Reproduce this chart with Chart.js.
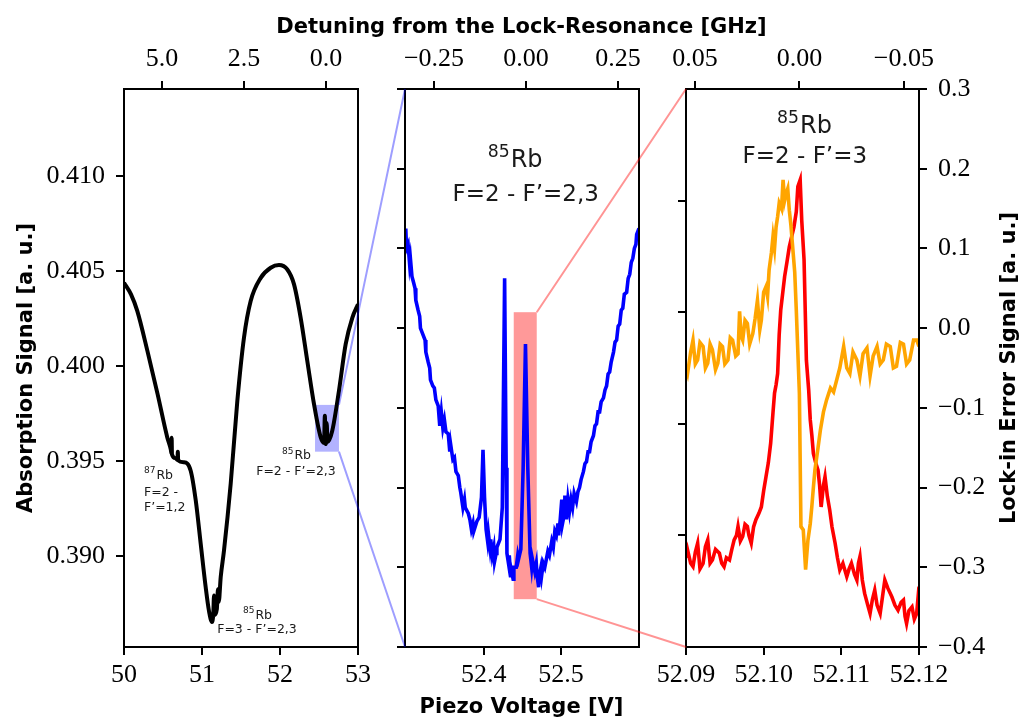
<!DOCTYPE html>
<html>
<head>
<meta charset="utf-8">
<script src="https://cdn.jsdelivr.net/npm/chart.js@4.4.1/dist/chart.umd.min.js"></script>
<style>
body{margin:0;background:#fff;}
#wrap{position:relative;width:1022px;height:722px;}
#wrap canvas{position:absolute;left:0;top:0;}
</style>
</head>
<body>
<div id="wrap">
<canvas id="c1" width="1022" height="722"></canvas>
<canvas id="c2" width="1022" height="722"></canvas>
<canvas id="c3" width="1022" height="722"></canvas>
</div>
<script>
// ---- panel 1: full Doppler scan ----
const p1Volt = [50.00, 50.09, 50.17, 50.30, 50.43, 50.555, 50.60, 50.608, 50.611, 50.615,
  50.66, 50.686, 50.69, 50.694, 50.77, 50.855, 50.92, 50.983, 51.047, 51.09,
  51.128, 51.145, 51.154, 51.16, 51.19, 51.205, 51.215, 51.24, 51.282, 51.368,
  51.453, 51.538, 51.624, 51.753, 51.881, 51.987, 52.094, 52.179, 52.265, 52.35,
  52.436, 52.522, 52.565, 52.575, 52.583, 52.59, 52.598, 52.61, 52.67, 52.756,
  52.842, 52.927, 53.00];
const p1Abs = [0.40437, 0.40376, 0.40289, 0.40079, 0.39853, 0.39624, 0.39560, 0.39540, 0.39622, 0.39535,
  0.39515, 0.39505, 0.39549, 0.39503, 0.39493, 0.39449, 0.39292, 0.39066, 0.38837, 0.38710,
  0.38653, 0.38700, 0.38793, 0.38690, 0.38720, 0.38825, 0.38760, 0.38890, 0.39029, 0.39381,
  0.39816, 0.40148, 0.40341, 0.40463, 0.40516, 0.40530, 0.40507, 0.40430, 0.40253, 0.40026,
  0.39799, 0.39624, 0.39595, 0.39738, 0.39600, 0.39589, 0.39700, 0.39600, 0.39659, 0.39869,
  0.40114, 0.40253, 0.40324];

// ---- panel 2: zoom on 85Rb F=2 ----
const p2Volt = [52.299, 52.300, 52.302, 52.304, 52.305, 52.307, 52.309, 52.311, 52.312, 52.315,
  52.317, 52.318, 52.322, 52.324, 52.325, 52.328, 52.330, 52.331, 52.334, 52.336,
  52.338, 52.341, 52.343, 52.345, 52.347, 52.349, 52.351, 52.354, 52.356, 52.357,
  52.360, 52.362, 52.364, 52.367, 52.369, 52.370, 52.373, 52.375, 52.376, 52.380,
  52.382, 52.384, 52.386, 52.387, 52.391, 52.394, 52.397, 52.399, 52.401, 52.403,
  52.405, 52.406, 52.408, 52.409, 52.411, 52.413, 52.414, 52.416, 52.417, 52.419,
  52.421, 52.424, 52.427, 52.429, 52.430, 52.432, 52.433, 52.435, 52.436, 52.438,
  52.439, 52.442, 52.444, 52.445, 52.448, 52.451, 52.454, 52.457, 52.460, 52.462,
  52.463, 52.466, 52.468, 52.469, 52.471, 52.472, 52.474, 52.475, 52.477, 52.479,
  52.481, 52.483, 52.485, 52.488, 52.490, 52.492, 52.494, 52.496, 52.497, 52.499,
  52.501, 52.502, 52.504, 52.505, 52.507, 52.509, 52.511, 52.513, 52.515, 52.517,
  52.520, 52.522, 52.524, 52.526, 52.529, 52.531, 52.533, 52.535, 52.537, 52.539,
  52.542, 52.544, 52.546, 52.548, 52.550, 52.552, 52.555, 52.557, 52.559, 52.561,
  52.563, 52.565, 52.568, 52.570, 52.572, 52.574, 52.576, 52.578, 52.580, 52.582,
  52.585, 52.587, 52.589, 52.591, 52.593, 52.595, 52.597, 52.598, 52.601];
const p2Abs = [0.39760, 0.39750, 0.39752, 0.39742, 0.39745, 0.39736, 0.39733, 0.39730, 0.39724, 0.39719,
  0.39716, 0.39710, 0.39706, 0.39704, 0.39698, 0.39693, 0.39690, 0.39684, 0.39681, 0.39680,
  0.39674, 0.39671, 0.39661, 0.39668, 0.39660, 0.39664, 0.39658, 0.39657, 0.39648, 0.39652,
  0.39644, 0.39645, 0.39638, 0.39636, 0.39630, 0.39628, 0.39620, 0.39624, 0.39620, 0.39617,
  0.39614, 0.39609, 0.39612, 0.39608, 0.39613, 0.39615, 0.39625, 0.39649, 0.39625, 0.39609,
  0.39603, 0.39607, 0.39600, 0.39604, 0.39596, 0.39600, 0.39593, 0.39597, 0.39600, 0.39602,
  0.39604, 0.39620, 0.39735, 0.39640, 0.39597, 0.39592, 0.39596, 0.39585, 0.39588, 0.39584,
  0.39590, 0.39590, 0.39596, 0.39594, 0.39599, 0.39640, 0.39702, 0.39640, 0.39597, 0.39590,
  0.39594, 0.39588, 0.39592, 0.39586, 0.39580, 0.39586, 0.39590, 0.39586, 0.39592, 0.39590,
  0.39594, 0.39598, 0.39596, 0.39603, 0.39600, 0.39608, 0.39606, 0.39612, 0.39606, 0.39614,
  0.39624, 0.39612, 0.39616, 0.39626, 0.39614, 0.39624, 0.39618, 0.39624, 0.39620, 0.39627,
  0.39623, 0.39628, 0.39630, 0.39634, 0.39638, 0.39642, 0.39643, 0.39648, 0.39648, 0.39653,
  0.39656, 0.39661, 0.39662, 0.39668, 0.39668, 0.39673, 0.39675, 0.39679, 0.39681, 0.39687,
  0.39688, 0.39693, 0.39698, 0.39703, 0.39704, 0.39711, 0.39712, 0.39719, 0.39720, 0.39727,
  0.39728, 0.39735, 0.39737, 0.39743, 0.39745, 0.39750, 0.39752, 0.39757, 0.39760];

// ---- panel 3: lock resonance, absorption (red) and lock-in error (orange) ----
const p3Volt = [52.0900, 52.0902, 52.0906, 52.0909, 52.0912, 52.0915, 52.0918, 52.0922, 52.0925, 52.0928,
  52.0931, 52.0934, 52.0938, 52.0943, 52.0946, 52.0949, 52.0952, 52.0956, 52.0959, 52.0962,
  52.0965, 52.0967, 52.0970, 52.0973, 52.0976, 52.0979, 52.0981, 52.0984, 52.0987, 52.0990,
  52.0994, 52.0997, 52.1000, 52.1003, 52.1006, 52.1009, 52.1012, 52.1014, 52.1016, 52.1018,
  52.1020, 52.1022, 52.1025, 52.1027, 52.1030, 52.1033, 52.1036, 52.1039, 52.1042, 52.1044,
  52.1047, 52.1049, 52.1052, 52.1055, 52.1058, 52.1060, 52.1062, 52.1064, 52.1067, 52.1070,
  52.1072, 52.1074, 52.1077, 52.1079, 52.1082, 52.1085, 52.1088, 52.1092, 52.1095, 52.1098,
  52.1102, 52.1107, 52.1110, 52.1113, 52.1117, 52.1120, 52.1122, 52.1124, 52.1127, 52.1130,
  52.1134, 52.1137, 52.1140, 52.1143, 52.1146, 52.1150, 52.1153, 52.1156, 52.1160, 52.1165,
  52.1169, 52.1173, 52.1177, 52.1180, 52.1182, 52.1184, 52.1187, 52.1191, 52.1194, 52.1197,
  52.1200];
const p3Abs = [0.160, 0.174, 0.150, 0.144, 0.170, 0.186, 0.140, 0.150, 0.180, 0.192,
  0.150, 0.156, 0.175, 0.168, 0.150, 0.144, 0.160, 0.156, 0.175, 0.192,
  0.200, 0.216, 0.190, 0.198, 0.220, 0.216, 0.200, 0.186, 0.215, 0.228,
  0.240, 0.251, 0.280, 0.305, 0.330, 0.365, 0.420, 0.455, 0.470, 0.490,
  0.560, 0.604, 0.640, 0.664, 0.690, 0.717, 0.735, 0.753, 0.780, 0.825,
  0.837, 0.765, 0.694, 0.514, 0.460, 0.407, 0.380, 0.347, 0.330, 0.317,
  0.290, 0.251, 0.290, 0.305, 0.270, 0.246, 0.215, 0.186, 0.160, 0.138,
  0.150, 0.126, 0.140, 0.150, 0.130, 0.120, 0.150, 0.162, 0.120, 0.096,
  0.075, 0.060, 0.085, 0.102, 0.075, 0.060, 0.090, 0.120, 0.105, 0.090,
  0.075, 0.066, 0.080, 0.084, 0.055, 0.042, 0.065, 0.072, 0.050, 0.060,
  0.108];
const p3ErrVolt = [52.0900, 52.0902, 52.0906, 52.0909, 52.0912, 52.0915, 52.0918, 52.0922, 52.0925, 52.0928,
  52.0931, 52.0934, 52.0938, 52.0941, 52.0944, 52.0947, 52.0950, 52.0954, 52.0957, 52.0960,
  52.0964, 52.0967, 52.0969, 52.0971, 52.0973, 52.0976, 52.0979, 52.0982, 52.0986, 52.0989,
  52.0992, 52.0995, 52.0997, 52.1000, 52.1003, 52.1005, 52.1007, 52.1010, 52.1012, 52.1014,
  52.1016, 52.1018, 52.1020, 52.1023, 52.1025, 52.1027, 52.1029, 52.1031, 52.1033, 52.1035,
  52.1037, 52.1040, 52.1042, 52.1044, 52.1046, 52.1048, 52.1051, 52.1054, 52.1057, 52.1060,
  52.1062, 52.1064, 52.1066, 52.1070, 52.1073, 52.1077, 52.1081, 52.1086, 52.1090, 52.1094,
  52.1098, 52.1103, 52.1107, 52.1111, 52.1115, 52.1120, 52.1124, 52.1128, 52.1133, 52.1137,
  52.1141, 52.1146, 52.1150, 52.1154, 52.1158, 52.1163, 52.1167, 52.1171, 52.1176, 52.1180,
  52.1184, 52.1188, 52.1193, 52.1197, 52.1200];
const p3Err = [-0.050, -0.057, -0.030, -0.015, -0.045, -0.040, -0.018, -0.023, -0.050, -0.044,
  -0.020, -0.027, -0.052, -0.044, -0.020, -0.023, -0.045, -0.040, -0.012, -0.015,
  -0.035, -0.032, 0.021, -0.010, -0.015, 0.010, 0.006, -0.020, -0.007, 0.012,
  0.035, -0.002, 0.010, 0.045, 0.052, 0.040, 0.073, 0.095, 0.115, 0.100,
  0.127, 0.140, 0.157, 0.150, 0.186, 0.160, 0.169, 0.175, 0.148, 0.130,
  0.106, 0.070, 0.023, -0.030, -0.082, -0.249, -0.253, -0.303, -0.266, -0.245,
  -0.224, -0.200, -0.178, -0.150, -0.128, -0.105, -0.090, -0.075, -0.080, -0.065,
  -0.050, -0.023, -0.050, -0.057, -0.030, -0.040, -0.060, -0.032, -0.025, -0.060,
  -0.035, -0.023, -0.045, -0.040, -0.020, -0.023, -0.050, -0.048, -0.018, -0.020,
  -0.045, -0.040, -0.015, -0.015, -0.023];

// ---- ticks ----
const p1VoltTicks = [50, 51, 52, 53];
const p1DetTicks = [5.0, 2.5, 0.0];
const p1AbsTicks = [0.390, 0.395, 0.400, 0.405, 0.410];
const p2VoltTicks = [52.4, 52.5];
const p2DetTicks = [-0.25, 0.00, 0.25];
const p2AbsTicks = [0.3955, 0.3959, 0.3963, 0.3967, 0.3971, 0.3975, 0.3979, 0.3983];
const p3VoltTicks = [52.09, 52.10, 52.11, 52.12];
const p3DetTicks = [0.05, 0.00, -0.05];
const p3AbsTicks = [0.2, 0.4, 0.6, 0.8];
const p3ErrTicks = [-0.4, -0.3, -0.2, -0.1, 0.0, 0.1, 0.2, 0.3];

// zoom windows: [x0, x1, y0, y1]
const zoom1 = [52.449, 52.756, 0.39549, 0.39795];
const zoom2 = [52.4388, 52.4686, 0.39574, 0.39718];

const topTitle = 'Detuning from the Lock-Resonance [GHz]';
const bottomTitle = 'Piezo Voltage [V]';
const leftTitle = 'Absorption Signal [a. u.]';
const rightTitle = 'Lock-in Error Signal [a. u.]';

const W = 1022, H = 722;
const serif = {family: 'Liberation Serif', size: 26};
const sans = '"DejaVu Sans"';

function pts(xs, ys) { return xs.map((x, i) => ({x: x, y: ys[i]})); }
function fmt(v, d) { return v.toFixed(d).replace('-', '\u2212'); }

function axis(pos, list, dec, size, extra) {
  const horiz = pos === 'top' || pos === 'bottom';
  const a = {
    type: 'linear',
    position: pos,
    axis: horiz ? 'x' : 'y',
    grid: {display: true, drawOnChartArea: false, drawTicks: true, tickLength: 8,
           tickWidth: 2, tickColor: '#000', color: '#000', lineWidth: 2},
    border: {display: false},
    ticks: {display: dec !== null, color: '#000', font: serif, autoSkip: false,
            maxRotation: 0, minRotation: 0, padding: horiz ? (pos === 'top' ? 6 : 5) : 11,
            callback: v => fmt(v, dec || 0)},
    afterBuildTicks: s => { s.ticks = list.map(v => ({value: v})); },
    afterFit: s => {
      if (horiz) s.height = size; else s.width = size;
      s.paddingLeft = 0; s.paddingRight = 0; s.paddingTop = 0; s.paddingBottom = 0;
    }
  };
  return Object.assign(a, extra);
}

function drawIso(ctx, x, y, mass, sym, size, align) {
  ctx.font = (size * 0.72) + 'px ' + sans;
  const wm = ctx.measureText(mass).width;
  ctx.font = size + 'px ' + sans;
  const ws = ctx.measureText(sym).width;
  const x0 = align === 'left' ? x : x - (wm + ws) / 2;
  ctx.textAlign = 'left';
  ctx.font = (size * 0.72) + 'px ' + sans;
  ctx.fillText(mass, x0, y - size * 0.36);
  ctx.font = size + 'px ' + sans;
  ctx.fillText(sym, x0 + wm + 1, y);
}

// frame, shaded zoom window and text notes for one panel
function deco(cfg) {
  return {
    id: 'deco',
    beforeDatasetsDraw(chart) {
      if (!cfg.rect) return;
      const {ctx, scales} = chart;
      const r = cfg.rect;
      const x0 = scales.x.getPixelForValue(r[0]), x1 = scales.x.getPixelForValue(r[1]);
      const y0 = scales.y.getPixelForValue(r[2]), y1 = scales.y.getPixelForValue(r[3]);
      ctx.save();
      ctx.fillStyle = cfg.rectColor;
      ctx.fillRect(x0, y1, x1 - x0, y0 - y1);
      ctx.restore();
    },
    afterDatasetsDraw(chart) {
      const {ctx, scales, chartArea: a} = chart;
      ctx.save();
      ctx.strokeStyle = '#000';
      ctx.lineWidth = 2;
      ctx.strokeRect(a.left, a.top, a.right - a.left, a.bottom - a.top);
      ctx.fillStyle = '#1a1a1a';
      ctx.textBaseline = 'middle';
      (cfg.notes || []).forEach(n => {
        const px = scales.x.getPixelForValue(n.x);
        const py = scales.y.getPixelForValue(n.y);
        if (n.mass) {
          drawIso(ctx, px, py, n.mass, n.sym, n.size, n.align);
        } else {
          ctx.font = n.size + 'px ' + sans;
          ctx.textAlign = n.align || 'center';
          ctx.fillText(n.text, px, py);
        }
      });
      ctx.restore();
    }
  };
}

function baseOptions(pad) {
  return {
    responsive: false,
    devicePixelRatio: 1,
    animation: false,
    events: [],
    layout: {padding: pad},
    plugins: {legend: {display: false}, tooltip: {enabled: false}}
  };
}

// ---------- chart 1 ----------
const opt1 = baseOptions({left: 0, right: W - 358, top: 49, bottom: H - 647 - 40});
opt1.scales = {
  x: axis('bottom', p1VoltTicks, 0, 40, {min: 50, max: 53}),
  xt: axis('top', p1DetTicks, 1, 40, {min: -0.975, max: 6.159, reverse: true}),
  y: axis('left', p1AbsTicks, 3, 124, {min: 0.38522, max: 0.41456})
};
const chart1 = new Chart(document.getElementById('c1'), {
  type: 'line',
  data: {datasets: [{data: pts(p1Volt, p1Abs), borderColor: '#000', borderWidth: 4,
    pointRadius: 0, cubicInterpolationMode: 'monotone', fill: false}]},
  options: opt1,
  plugins: [deco({
    rect: zoom1, rectColor: 'rgba(0,0,255,0.3)',
    notes: [
      {x: 50.256, y: 0.39423, mass: '87', sym: 'Rb', size: 12.5, align: 'left'},
      {x: 50.256, y: 0.39334, text: 'F=2 -', size: 12.5, align: 'left'},
      {x: 50.256, y: 0.39255, text: 'F\u2019=1,2', size: 12.5, align: 'left'},
      {x: 52.205, y: 0.39528, mass: '85', sym: 'Rb', size: 12.5},
      {x: 52.205, y: 0.39446, text: 'F=2 - F\u2019=2,3', size: 12.5},
      {x: 51.705, y: 0.38688, mass: '85', sym: 'Rb', size: 12.5},
      {x: 51.705, y: 0.38615, text: 'F=3 - F\u2019=2,3', size: 12.5}
    ]
  })]
});

// ---------- chart 2 ----------
const opt2 = baseOptions({left: 385, right: W - 639, top: 49, bottom: H - 647 - 40});
opt2.scales = {
  x: axis('bottom', p2VoltTicks, 1, 40, {min: 52.298, max: 52.601}),
  xt: axis('top', p2DetTicks, 2, 40, {min: -0.3288, max: 0.307}),
  y: axis('left', p2AbsTicks, null, 20, {min: 0.3955, max: 0.3983})
};
const chart2 = new Chart(document.getElementById('c2'), {
  type: 'line',
  data: {datasets: [{data: pts(p2Volt, p2Abs), borderColor: '#0000ff', borderWidth: 3.6,
    pointRadius: 0, tension: 0, fill: false}]},
  options: opt2,
  plugins: [deco({
    rect: zoom2, rectColor: 'rgba(255,0,0,0.4)',
    notes: [
      {x: 52.440, y: 0.39794, mass: '85', sym: 'Rb', size: 24},
      {x: 52.4543, y: 0.39777, text: 'F=2 - F\u2019=2,3', size: 23}
    ]
  })]
});

// ---------- chart 3 ----------
const labels = {
  id: 'labels',
  afterDraw(chart) {
    const ctx = chart.ctx;
    const a1 = chart1.chartArea, a3 = chart.chartArea;
    const s1 = chart1.scales, s2 = chart2.scales;
    const a2 = chart2.chartArea;
    ctx.save();
    // connector lines
    ctx.lineWidth = 2;
    ctx.strokeStyle = 'rgba(0,0,255,0.38)';
    const bx = s1.x.getPixelForValue(zoom1[1]);
    ctx.beginPath();
    ctx.moveTo(bx, s1.y.getPixelForValue(zoom1[3])); ctx.lineTo(a2.left, a2.top);
    ctx.moveTo(bx, s1.y.getPixelForValue(zoom1[2])); ctx.lineTo(a2.left, a2.bottom);
    ctx.stroke();
    ctx.strokeStyle = 'rgba(255,0,0,0.42)';
    const rx = s2.x.getPixelForValue(zoom2[1]);
    ctx.beginPath();
    ctx.moveTo(rx, s2.y.getPixelForValue(zoom2[3])); ctx.lineTo(a3.left, a3.top);
    ctx.moveTo(rx, s2.y.getPixelForValue(zoom2[2])); ctx.lineTo(a3.left, a3.bottom);
    ctx.stroke();
    // shared titles
    ctx.fillStyle = '#000';
    ctx.font = 'bold 21px ' + sans;
    ctx.textAlign = 'center';
    ctx.textBaseline = 'middle';
    const mid = (a1.left + a3.right) / 2;
    ctx.fillText(topTitle, mid, a1.top - 61);
    ctx.fillText(bottomTitle, mid, a1.bottom + 61);
    const midY = (a1.top + a1.bottom) / 2;
    ctx.translate(a1.left - 97, midY);
    ctx.rotate(-Math.PI / 2);
    ctx.fillText(leftTitle, 0, 0);
    ctx.setTransform(1, 0, 0, 1, 0, 0);
    ctx.translate(a3.right + 91, midY);
    ctx.rotate(-Math.PI / 2);
    ctx.fillText(rightTitle, 0, 0);
    ctx.restore();
  }
};

const opt3 = baseOptions({left: 666, right: 0, top: 49, bottom: H - 647 - 40});
opt3.scales = {
  x: axis('bottom', p3VoltTicks, 2, 40, {min: 52.09, max: 52.12}),
  xt: axis('top', p3DetTicks, 2, 40, {min: -0.0572, max: 0.0543, reverse: true}),
  y: axis('left', p3AbsTicks, null, 20, {min: 0, max: 1}),
  y2: axis('right', p3ErrTicks, 1, W - 919, {min: -0.4, max: 0.3})
};
const chart3 = new Chart(document.getElementById('c3'), {
  type: 'line',
  data: {datasets: [
    {data: pts(p3ErrVolt, p3Err), yAxisID: 'y2', borderColor: '#ffa500', borderWidth: 3.6,
      pointRadius: 0, tension: 0, fill: false},
    {data: pts(p3Volt, p3Abs), yAxisID: 'y', borderColor: '#ff0000', borderWidth: 3.6,
      pointRadius: 0, tension: 0, fill: false}
  ]},
  options: opt3,
  plugins: [deco({
    notes: [
      {x: 52.1052, y: 0.932, mass: '85', sym: 'Rb', size: 24},
      {x: 52.1053, y: 0.878, text: 'F=2 - F\u2019=3', size: 23}
    ]
  }), labels]
});
</script>
</body>
</html>
